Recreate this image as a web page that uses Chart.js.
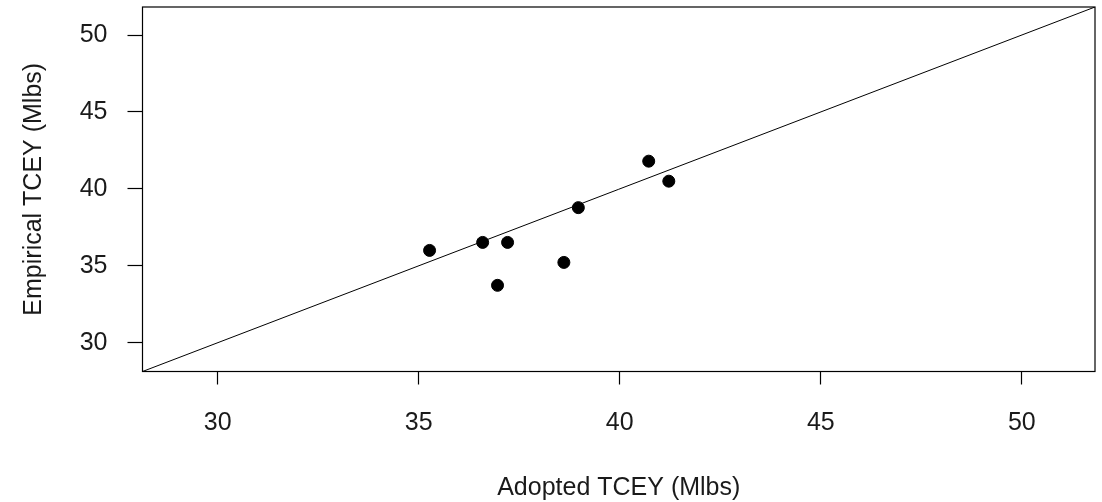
<!DOCTYPE html>
<html>
<head>
<meta charset="utf-8">
<script src="https://cdn.jsdelivr.net/npm/chart.js@4/dist/chart.umd.min.js"></script>
<style>
html,body{margin:0;padding:0;background:#fff;}
#wrap{width:1102px;height:502px;position:relative;}
</style>
</head>
<body>
<div id="wrap"><canvas id="c" width="1102" height="502"></canvas></div>
<script>
// Data
const adoptedTCEY   = [35.27, 36.59, 37.21, 36.96, 38.61, 38.97, 40.72, 41.22];
const empiricalTCEY = [36.00, 36.52, 36.52, 33.73, 35.22, 38.78, 41.80, 40.50];
const axisRange = [28.13, 51.82];
const tickVals = [30, 35, 40, 45, 50];
const xTitle = 'Adopted TCEY (Mlbs)';
const yTitle = 'Empirical TCEY (Mlbs)';

const points = adoptedTCEY.map((x, i) => ({x: x, y: empiricalTCEY[i]}));
const oneToOne = axisRange.map(v => ({x: v, y: v}));

const FONT = 'Liberation Sans, Arial, sans-serif';
const TXT = '#1a1a1a';
const FS = 25;

const boxPlugin = {
  id: 'box',
  afterDraw(chart) {
    const a = chart.chartArea, ctx = chart.ctx;
    ctx.save();
    ctx.strokeStyle = '#000';
    ctx.lineWidth = 1.2;
    ctx.strokeRect(a.left, a.top, a.right - a.left, a.bottom - a.top);
    ctx.restore();
  }
};

new Chart(document.getElementById('c'), {
  type: 'scatter',
  data: {
    datasets: [
      {
        type: 'line',
        data: oneToOne,
        borderColor: '#000',
        borderWidth: 1,
        pointRadius: 0,
        fill: false,
        tension: 0
      },
      {
        data: points,
        backgroundColor: '#000',
        borderColor: '#000',
        pointRadius: 6,
        pointHoverRadius: 6
      }
    ]
  },
  options: {
    responsive: false,
    animation: false,
    events: [],
    layout: { padding: { top: 6, right: 0, left: 0, bottom: 0 } },
    plugins: { legend: { display: false }, tooltip: { enabled: false } },
    scales: {
      x: {
        type: 'linear',
        min: axisRange[0], max: axisRange[1],
        afterBuildTicks(s) { s.ticks = tickVals.map(v => ({value: v})); },
        afterFit(s) { s.height = 130.5; s.paddingLeft = 0; s.paddingRight = 0; },
        grid: { drawOnChartArea: false, tickLength: 13, tickColor: '#000', tickWidth: 1.2 },
        border: { display: false },
        ticks: { color: TXT, font: { family: FONT, size: FS }, padding: 24, maxRotation: 0, autoSkip: false },
        title: { display: true, text: xTitle, color: TXT, font: { family: FONT, size: FS }, padding: { top: 0, bottom: -1 } }
      },
      y: {
        type: 'linear',
        min: axisRange[0], max: axisRange[1],
        afterBuildTicks(s) { s.ticks = tickVals.map(v => ({value: v})); },
        afterFit(s) { s.width = 142.5; s.paddingTop = 0; s.paddingBottom = 0; },
        grid: { drawOnChartArea: false, tickLength: 15, tickColor: '#000', tickWidth: 1.2 },
        border: { display: false },
        ticks: { color: TXT, font: { family: FONT, size: FS }, padding: 20, autoSkip: false },
        title: { display: true, text: yTitle, color: TXT, font: { family: FONT, size: FS }, padding: { top: 19, bottom: 0 } }
      }
    }
  },
  plugins: [boxPlugin]
});
</script>
</body>
</html>
